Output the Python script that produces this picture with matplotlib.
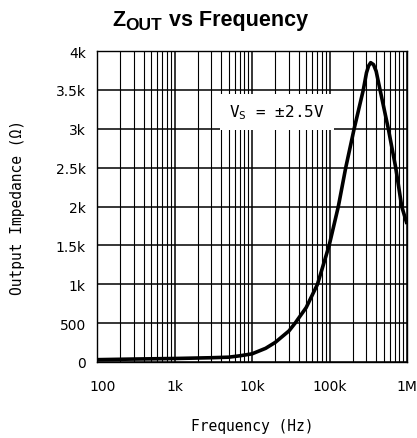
import matplotlib
matplotlib.use("Agg")
import matplotlib.pyplot as plt
from matplotlib.ticker import FixedLocator, LogLocator, NullFormatter
from matplotlib.transforms import ScaledTranslation

# Data
freq_hz = [100, 300, 1e3, 3e3, 5e3, 7e3, 1e4, 1.5e4, 2e4, 3e4, 3.6e4, 5e4,
           7e4, 9.9e4, 1.3e5, 1.62e5, 2.08e5, 2.73e5, 3e5, 3.2e5, 3.4e5, 3.7e5,
           4e5, 4.49e5, 5.74e5, 7.15e5, 8.55e5, 1e6]
zout_ohm = [30, 38, 45, 55, 62, 80, 105, 176, 253, 400, 500, 700,
            1000, 1500, 2000, 2500, 3000, 3500, 3720, 3810, 3850, 3825,
            3740, 3500, 3000, 2500, 2000, 1775]

x_ticks = [100, 1e3, 1e4, 1e5, 1e6]
x_labels = ["100", "1k", "10k", "100k", "1M"]
y_ticks = [0, 500, 1000, 1500, 2000, 2500, 3000, 3500, 4000]
y_labels = ["0", "500", "1k", "1.5k", "2k", "2.5k", "3k", "3.5k", "4k"]

W, H = 417, 439
fig = plt.figure(figsize=(W / 100, H / 100), dpi=100)
ax = fig.add_axes([97 / W, 1 - 363 / H, 310 / W, 311 / H])

ax.set_xscale("log")
ax.set_xlim(100, 1e6)
ax.set_ylim(0, 4000)

ax.xaxis.set_major_locator(FixedLocator(x_ticks))
ax.set_xticklabels(x_labels)
ax.xaxis.set_minor_locator(LogLocator(base=10, subs=range(2, 10)))
ax.xaxis.set_minor_formatter(NullFormatter())
ax.yaxis.set_major_locator(FixedLocator(y_ticks))
ax.set_yticklabels(y_labels)

ax.grid(True, which="major", axis="both", color="black", linewidth=1.1)
ax.grid(True, which="minor", axis="x", color="black", linewidth=0.8)
ax.set_axisbelow(True)
for s in ax.spines.values():
    s.set_color("black")
    s.set_linewidth(1.0)

ax.tick_params(which="both", length=0)
ax.tick_params(axis="x", pad=12, labelsize=10)
ax.tick_params(axis="y", pad=8, labelsize=10)

xl = ax.get_xticklabels()
xl[0].set_transform(xl[0].get_transform() + ScaledTranslation(6 / 100, 0, fig.dpi_scale_trans))

ax.plot(freq_hz, zout_ohm, color="black", linewidth=2.6, solid_capstyle="butt",
        solid_joinstyle="round")

ax.text(2.1e4, 3220, "V$_\\mathregular{S}$ = ±2.5V", family="DejaVu Sans Mono",
        fontsize=11.5, ha="center", va="center",
        bbox=dict(facecolor="white", edgecolor="none", boxstyle="square,pad=0.55"))

ax.set_xlabel("Frequency (Hz)", family="DejaVu Sans Mono", fontsize=10.5, labelpad=18)
ax.set_ylabel("Output Impedance (Ω)", family="DejaVu Sans Mono", fontsize=10.5, labelpad=22)

# Title pieces (Z with large OUT subscript)
fig.text(112 / W, 1 - 26 / H, "Z", family="Liberation Sans", fontweight="bold",
         fontsize=15.5, ha="left", va="baseline")
fig.text(125 / W, 1 - 30.5 / H, "OUT", family="Liberation Sans", fontweight="bold",
         fontsize=12.5, ha="left", va="baseline")
fig.text(169 / W, 1 - 26 / H, "vs Frequency", family="Liberation Sans", fontweight="bold",
         fontsize=15.5, ha="left", va="baseline")

fig.savefig("out.png", dpi=100)
